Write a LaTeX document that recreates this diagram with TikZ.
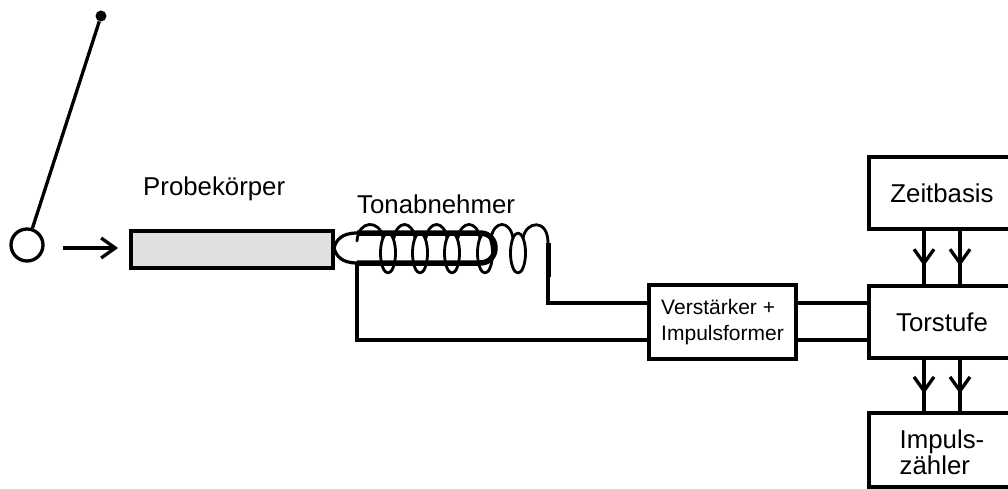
\documentclass[tikz,border=0pt]{standalone}
\usepackage{fontspec}
\setmainfont{Liberation Sans}
\usetikzlibrary{arrows.meta,decorations.markings}
\tikzset{
  x=1pt,y=-1pt,
  wire/.style={line width=3.3pt,line join=miter},
  coilwire/.style={line width=2.8pt,line cap=round,line join=round},
  block/.style={draw=black,line width=3.5pt,fill=white,minimum width=146pt,inner sep=0pt,font=\fontsize{25.8}{26}\selectfont},
  labeltext/.style={inner sep=0pt,anchor=base west,font=\fontsize{25.8}{29}\selectfont},
  barb/.tip={Straight Barb[length=14pt,width=20pt,line width=3.3pt]},
  midarrow/.style={wire,decoration={markings,mark=at position 0.66 with {\arrow{barb}}},postaction={decorate}}
}
\begin{document}
\begin{tikzpicture}
\useasboundingbox (0,0) rectangle (1008,489);
\clip (0,0) rectangle (1008,489);
% pendulum
\node[circle,draw=black,line width=3.3pt,minimum size=32pt,inner sep=0pt] (ball) at (27,245) {};
\node[circle,fill=black,minimum size=11pt,inner sep=0pt] (pivot) at (101,16) {};
\draw[wire] (ball) -- (pivot);
% specimen
\node[draw=black,line width=3.3pt,fill=black!12,minimum width=202pt,minimum height=37pt,inner sep=0pt] (probe) at (232,249.5) {};
\coordinate (arrowstart) at (63,248);
\coordinate (arrowend) at (118,248);
\draw[wire,-{barb}] (arrowstart) -- (arrowend);
\node[labeltext] (probelabel) at (143,195) {Probekörper};
\node[labeltext] (tonlabel) at (357,213) {Tonabnehmer};
% pickup core
\coordinate (coreTL) at (357,233);
\coordinate (coreBL) at (357,263);
\draw[line width=3.2pt] (coreBL) .. controls (342,263) and (336,256) .. (334,248) .. controls (336,240) and (342,233) .. (coreTL);
\draw[line width=5.5pt] (coreTL) -- (480,233) .. controls (500,233) and (500,263) .. (480,263) -- (coreBL);
% coil
\foreach \cx in {388,420,452,485,518} {
  \draw[coilwire] (\cx,253) ellipse [x radius=7.5,y radius=20];
}
\draw[coilwire] (357,241) .. controls (358,220) and (380,219) .. (383,238);
\foreach \a/\b in {394/415,426/447,458/480,491/513} {
  \draw[coilwire] (\a,238) .. controls (\a+3,220) and (\b-3,220) .. (\b,238);
}
\draw[coilwire] (523,238) .. controls (526,221) and (548,218) .. (548,243);
\coordinate (leadtop) at (548,243);
\coordinate (leadend) at (548,277);
\draw[line width=5pt] (leadtop) -- (leadend);
% blocks
\node[block,minimum width=147pt,minimum height=74pt,font=\fontsize{21}{26}\selectfont,align=left] (amp) at (722.5,322) {Verstärker +\\Impulsformer};
\node[block,minimum height=72pt] (zeit) at (942,193) {Zeitbasis};
\node[block,minimum height=72pt] (tor) at (942,322) {Torstufe};
\node[block,minimum height=74pt,align=left] (zaehler) at (942,450) {\rule{0pt}{23pt}Impuls-\\zähler};
% wires
\coordinate (wireU) at (0,303);
\coordinate (wireL) at (0,340);
\draw[wire] (leadend) |- (amp.west |- wireU);
\draw[wire] (coreBL) |- (amp.west |- wireL);
\draw[wire] (amp.east |- wireU) -- (tor.west |- wireU);
\draw[wire] (amp.east |- wireL) -- (tor.west |- wireL);
% arrows
\coordinate (colA) at (924,0);
\coordinate (colB) at (960,0);
\foreach \c in {colA,colB} {
  \draw[midarrow] (zeit.south -| \c) -- (tor.north -| \c);
  \draw[midarrow] (tor.south -| \c) -- (zaehler.north -| \c);
}
\end{tikzpicture}
\end{document}
